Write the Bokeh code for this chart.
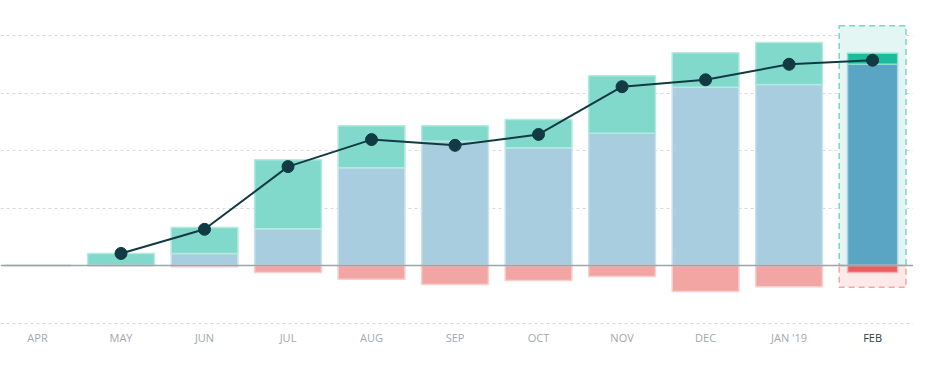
from bokeh.plotting import figure
from bokeh.models import ColumnDataSource, Range1d, FixedTicker, Span
from bokeh.core.properties import value
from bokeh.embed import file_html
from bokeh.resources import INLINE

months = ["APR", "MAY", "JUN", "JUL", "AUG", "SEP", "OCT", "NOV", "DEC", "JAN '19", "FEB"]
base = [0, 0, 21, 64, 170, 216, 205, 230, 310, 315, 350]
added = [0, 21, 45, 120, 73, 27, 49, 100, 60, 73, 19]
removed = [0, 0, -2, -12, -24, -33, -26, -19, -45, -37, -12]
net = [None, 21, 63, 172, 219, 209, 228, 311, 323, 350, 357]
highlight_index = 10
grid_values = [-100, 0, 100, 200, 300, 400]

LABEL_Y = -125
BOX_TOP = 417
BOX_BOTTOM = -38

n = len(months)
xs = list(range(n))
hl = [i == highlight_index for i in xs]

src = ColumnDataSource(dict(
    x=xs,
    base=base,
    top=[b + a for b, a in zip(base, added)],
    zero=[0] * n,
    removed=removed,
    w=[0.6 if h else 0.8 for h in hl],
    c_base=["#5ba5c4" if h else "#a7cddf" for h in hl],
    c_add=["#1abc9c" if h else "#80d9ca" for h in hl],
    c_rem=["#e85d5d" if h else "#f2a6a4" for h in hl],
    l_base=["#a9d3e2" if h else "#c9e3ee" for h in hl],
    l_add=["#8fdccd" if h else "#b3eadf" for h in hl],
    l_rem=["#f4b3b0" if h else "#f8cfcd" for h in hl],
))

p = figure(width=913, height=352, output_backend="svg", toolbar_location=None,
           x_range=Range1d(-0.443, 10.49), y_range=Range1d(-151.3, 429.6),
           min_border_left=0, min_border_right=0, min_border_top=18, min_border_bottom=0)
p.xaxis.visible = False
p.yaxis.visible = False
p.outline_line_color = None
p.xgrid.visible = False
p.ygrid.ticker = FixedTicker(ticks=grid_values)
p.ygrid.grid_line_color = "#d6d9db"
p.ygrid.grid_line_dash = "3 3"
p.ygrid.grid_line_width = 1

# highlight box for current month
hx = highlight_index
p.quad(left=[hx - 0.4], right=[hx + 0.4], bottom=[0], top=[BOX_TOP],
       fill_color="#e4f6f3", line_color="#78d6c5", line_dash="6 4", line_width=1.5)
p.quad(left=[hx - 0.4], right=[hx + 0.4], bottom=[BOX_BOTTOM], top=[0],
       fill_color="#fde9e9", line_color="#f3a7a3", line_dash="6 4", line_width=1.5)

p.vbar(x="x", width="w", bottom="zero", top="base", source=src,
       fill_color="c_base", line_color="l_base", line_width=1.5)
p.vbar(x="x", width="w", bottom="base", top="top", source=src,
       fill_color="c_add", line_color="l_add", line_width=1.5)
p.vbar(x="x", width="w", bottom="removed", top="zero", source=src,
       fill_color="c_rem", line_color="l_rem", line_width=1.5)

zero_line = Span(location=0, dimension="width", line_color="#9ba6aa", line_width=1.5)
p.add_layout(zero_line)

lx = [x for x, v in zip(xs, net) if v is not None]
ly = [v for v in net if v is not None]
p.line(lx, ly, line_color="#123a44", line_width=2)
p.scatter(lx, ly, size=12, fill_color="#123a44", line_color="#123a44")

lab = ColumnDataSource(dict(
    x=xs, y=[LABEL_Y] * n, t=months,
    c=["#2c3d44" if h else "#a0a9ad" for h in hl],
))
p.text(x="x", y="y", text="t", source=lab, text_color="c",
       text_font=value("Open Sans"), text_font_size="11px",
       text_align="center", text_baseline="middle")

open("out.html", "w").write(file_html(p, INLINE))
